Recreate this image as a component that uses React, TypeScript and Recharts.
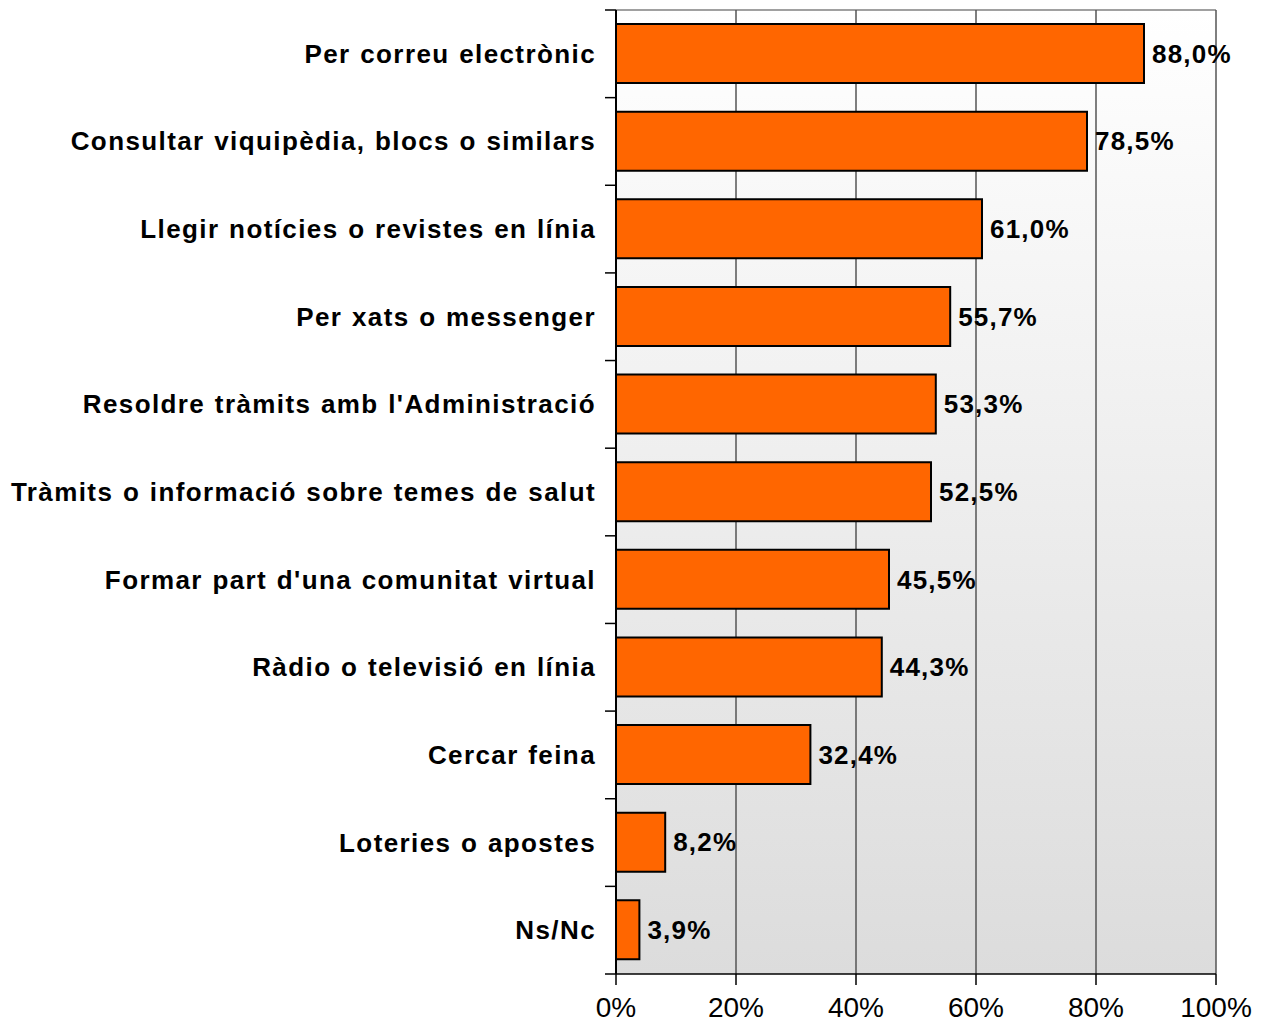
import React from 'react'
import { BarChart, Bar, XAxis, YAxis, CartesianGrid, LabelList } from 'recharts'

const categories = [
  'Per correu electrònic',
  'Consultar viquipèdia, blocs o similars',
  'Llegir notícies o revistes en línia',
  'Per xats o messenger',
  "Resoldre tràmits amb l'Administració",
  'Tràmits o informació sobre temes de salut',
  "Formar part d'una comunitat virtual",
  'Ràdio o televisió en línia',
  'Cercar feina',
  'Loteries o apostes',
  'Ns/Nc'
]
const values = [88.0, 78.5, 61.0, 55.7, 53.3, 52.5, 45.5, 44.3, 32.4, 8.2, 3.9]
const xTicks = [0, 20, 40, 60, 80, 100]

const data = categories.map((name, i) => ({ name, value: values[i] }))

const W = 1265
const H = 1023
const PLOT_LEFT = 616
const PLOT_TOP = 10
const PLOT_BOTTOM = 974
const BAND = (PLOT_BOTTOM - PLOT_TOP) / categories.length
const FONT = '"Liberation Sans", Arial, sans-serif'

const fmt = (v: number) => v.toFixed(1).replace('.', ',') + '%'

function CategoryTick(props: any) {
  const { y, payload, index } = props
  const top = y - BAND / 2
  const isLast = index === categories.length - 1
  return (
    <g>
      <line x1={PLOT_LEFT - 11} x2={PLOT_LEFT} y1={top} y2={top} stroke="#000" strokeWidth={1.5} />
      {isLast && (
        <line x1={PLOT_LEFT - 11} x2={PLOT_LEFT} y1={y + BAND / 2} y2={y + BAND / 2} stroke="#000" strokeWidth={1.5} />
      )}
      <text
        x={PLOT_LEFT - 20}
        y={y}
        dy={9}
        textAnchor="end"
        fontFamily={FONT}
        fontWeight="bold"
        fontSize={26}
        letterSpacing={1.4}
        wordSpacing={1}
        fill="#000"
      >
        {payload.value}
      </text>
    </g>
  )
}

export default function App() {
  return (
    <div style={{ position: 'absolute', left: 0, top: 0, background: '#fff' }}>
      <BarChart
        width={W}
        height={H}
        data={data}
        layout="vertical"
        margin={{ top: PLOT_TOP, right: W - 1216, bottom: 0, left: 0 }}
        barSize={59}
      >
        <defs>
          <linearGradient id="bg" x1="0" y1="0" x2="0" y2="1">
            <stop offset="0%" stopColor="#ffffff" />
            <stop offset="100%" stopColor="#dcdcdc" />
          </linearGradient>
        </defs>
        <CartesianGrid
          fill="url(#bg)"
          vertical={false}
          horizontal={true}
          horizontalCoordinatesGenerator={() => [PLOT_TOP]}
          stroke="#a0a0a0"
          strokeWidth={2}
        />
        <CartesianGrid horizontal={false} stroke="#555" strokeWidth={1.5} />
        <XAxis
          type="number"
          domain={[0, 100]}
          ticks={xTicks}
          tickFormatter={(v: number) => v + '%'}
          axisLine={{ stroke: '#000', strokeWidth: 1.5 }}
          tickLine={{ stroke: '#000', strokeWidth: 1.5 }}
          tickSize={11}
          tickMargin={12}
          height={H - PLOT_BOTTOM}
          tick={{ fill: '#000', fontSize: 28, fontFamily: FONT }}
          interval={0}
        />
        <YAxis
          type="category"
          dataKey="name"
          width={PLOT_LEFT}
          axisLine={{ stroke: '#000', strokeWidth: 2 }}
          tickLine={false}
          tick={<CategoryTick />}
          interval={0}
        />
        <Bar dataKey="value" fill="#ff6600" stroke="#000" strokeWidth={2} isAnimationActive={false}>
          <LabelList
            dataKey="value"
            position="right"
            offset={8}
            formatter={(v: any) => fmt(Number(v))}
            fill="#000"
            fontFamily={FONT}
            fontWeight="bold"
            fontSize={26}
            letterSpacing={1.2}
          />
        </Bar>
      </BarChart>
    </div>
  )
}
